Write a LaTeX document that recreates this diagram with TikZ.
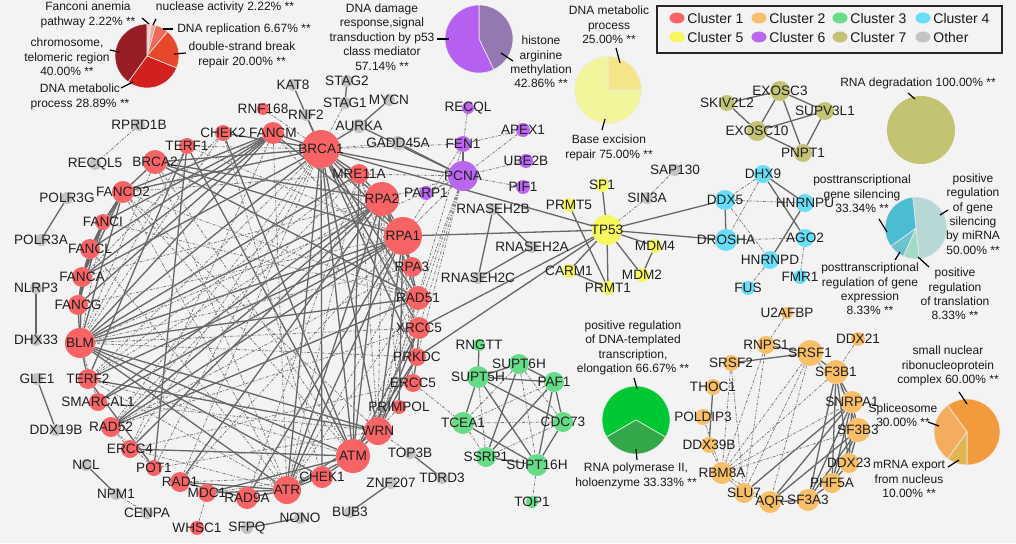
\documentclass[tikz,border=0pt]{standalone}
\usepackage{fontspec}
\setmainfont{Liberation Sans}
\usetikzlibrary{backgrounds,positioning,shapes.geometric}

\definecolor{bgcol}{HTML}{F3F3F3}
\definecolor{cA}{HTML}{F86465}
\definecolor{cB}{HTML}{F9BF68}
\definecolor{cC}{HTML}{67DC88}
\definecolor{cD}{HTML}{67DDF7}
\definecolor{cE}{HTML}{F6F65E}
\definecolor{cF}{HTML}{BA66F1}
\definecolor{cG}{HTML}{C4C374}
\definecolor{cO}{HTML}{C3C3C3}
\definecolor{edgecol}{HTML}{666666}
\definecolor{dashcol}{HTML}{7E7E7E}
% pie colours
\definecolor{rp1}{HTML}{F6CBC6}
\definecolor{rp2}{HTML}{F2A199}
\definecolor{rp3}{HTML}{EC6A5A}
\definecolor{rp4}{HTML}{E8482A}
\definecolor{rp5}{HTML}{D2201F}
\definecolor{rp6}{HTML}{961E24}
\definecolor{pp1}{HTML}{9478B2}
\definecolor{pp2}{HTML}{B660F2}
\definecolor{yp1}{HTML}{F4E48A}
\definecolor{yp2}{HTML}{F2F59C}
\definecolor{cp1}{HTML}{B8D8D6}
\definecolor{cp2}{HTML}{A2DCC6}
\definecolor{cp3}{HTML}{6CC2CF}
\definecolor{cp4}{HTML}{4BBDD2}
\definecolor{gp1}{HTML}{00C832}
\definecolor{gp2}{HTML}{33A84A}
\definecolor{op1}{HTML}{F29B3C}
\definecolor{op2}{HTML}{E1B652}
\definecolor{op3}{HTML}{F4AD5E}

\newcommand\genefont{\fontsize{13.6pt}{15pt}\selectfont}
\newcommand\pielabfont{\fontsize{12pt}{14.4pt}\selectfont}
\newcommand\legfont{\fontsize{14pt}{16pt}\selectfont}
% pie slice: centre, start angle, end angle, radius, colour
\newcommand\pieslice[5]{\filldraw[fill=#5, draw=white!85!gray, line width=0.6pt] (#1) -- ++({-(#2)}:#4) arc[start angle={-(#2)}, end angle={-(#3)}, radius=#4] -- cycle;}

\begin{document}
\begin{tikzpicture}[x=1pt, y=-1pt,
    gene/.style={circle, inner sep=0pt, draw=none, fill=#1},
    glab/.style={font=\genefont, text=black!88, inner sep=0pt},
    sedge/.style={draw=edgecol, line width=1.3pt},
    dedge/.style={draw=dashcol, line width=0.8pt, dash pattern=on 3pt off 1.5pt on 1pt off 1.5pt},
    pielab/.style={font=\pielabfont, align=center, inner sep=0pt, text=black!90},
    leader/.style={draw=black, line width=1.2pt},
    legmark/.style={ellipse, minimum width=15pt, minimum height=11pt, inner sep=0pt},
    legtext/.style={font=\legfont, inner sep=0pt, text=black!90}]
  \useasboundingbox (0,0) rectangle (1016,543);

  % genes
  \foreach \nm/\px/\py/\sz in {CHEK2/223/133/16, FANCM/273/133/22, BRCA1/321/149/38, MRE11A/359/174/20, RPA2/382/199/34, RPA1/403/236/38, RPA3/412/267/20, RAD51/418/298/24, XRCC5/419/328/22, PRKDC/417/357/18, ERCC5/413/383/18, PRIMPOL/399/407/14, WRN/378/431/28, ATM/353/456/34, CHEK1/322/477/22, ATR/287/490/28, RAD9A/247/498/22, MDC1/207/493/18, WHSC1/197/528/14, RAD1/180/482/20, POT1/154/468/16, ERCC4/130/449/18, RAD52/111/427/20, SMARCAL1/98/402/18, TERF2/88/379/20, BLM/80/343/30, FANCG/78/305/20, FANCA/82/277/20, FANCL/90/249/20, FANCI/103/222/16, FANCD2/123/192/22, BRCA2/155/162/24, TERF1/187/146/16, RNF168/263/109/12}
    \node[gene=cA, minimum size=\sz pt, label={[glab]center:\nm}] (\nm) at (\px,\py) {};
  \foreach \nm/\px/\py/\sz in {U2AFBP/787/313/12, RNPS1/766/345/18, SRSF1/810/353/26, DDX21/858/339/14, SRSF2/731/363/16, THOC1/713/387/16, POLDIP3/703/417/16, DDX39B/709/445/16, RBM8A/722/473/22, SLU7/744/493/20, AQR/770/502/22, SF3A3/808/500/22, PHF5A/832/483/20, DDX23/849/463/20, SF3B3/858/430/24, SNRPA1/852/402/22, SF3B1/836/372/24}
    \node[gene=cB, minimum size=\sz pt, label={[glab]center:\nm}] (\nm) at (\px,\py) {};
  \foreach \nm/\px/\py/\sz in {RNGTT/479/345/12, SUPT5H/478/377/22, SUPT6H/519/364/20, PAF1/554/382/20, CDC73/563/422/20, TCEA1/463/423/22, SSRP1/486/457/20, SUPT16H/537/465/22, TOP1/532/502/12}
    \node[gene=cC, minimum size=\sz pt, label={[glab]center:\nm}] (\nm) at (\px,\py) {};
  \foreach \nm/\px/\py/\sz in {DHX9/763/174/18, DDX5/725/200/20, HNRNPU/805/203/18, DROSHA/726/240/22, AGO2/805/238/18, HNRNPD/770/260/18, FMR1/800/277/14, FUS/748/288/14}
    \node[gene=cD, minimum size=\sz pt, label={[glab]center:\nm}] (\nm) at (\px,\py) {};
  \foreach \nm/\px/\py/\sz in {SP1/602/185/14, PRMT5/569/205/14, TP53/607/230/30, MDM4/655/246/14, MDM2/642/275/14, CARM1/569/271/14, PRMT1/608/288/14}
    \node[gene=cE, minimum size=\sz pt, label={[glab]center:\nm}] (\nm) at (\px,\py) {};
  \foreach \nm/\px/\py/\sz in {RECQL/468/108/12, FEN1/463/144/16, APEX1/523/130/14, UBE2B/526/161/14, PCNA/463/176/30, PIF1/523/187/14, PARP1/426/193/14}
    \node[gene=cF, minimum size=\sz pt, label={[glab]center:\nm}] (\nm) at (\px,\py) {};
  \foreach \nm/\px/\py/\sz in {EXOSC3/780/91/20, SKIV2L2/727/103/16, SUPV3L1/825/111/18, EXOSC10/757/131/20, PNPT1/803/153/18}
    \node[gene=cG, minimum size=\sz pt, label={[glab]center:\nm}] (\nm) at (\px,\py) {};
  \foreach \nm/\px/\py/\sz in {KAT8/293/85/12, STAG2/347/81/12, STAG1/345/103/12, RNF2/306/115/12, MYCN/389/100/12, AURKA/359/126/14, GADD45A/398/143/14, RPRD1B/139/125/12, RECQL5/95/164/12, POLR3G/67/198/12, POLR3A/41/240/12, NLRP3/36/288/12, DHX33/36/340/12, GLE1/37/379/12, DDX19B/56/430/12, NCL/86/465/12, NPM1/116/494/12, CENPA/147/513/12, SFPQ/247/528/12, NONO/300/518/12, BUB3/350/512/12, ZNF207/391/483/12, TOP3B/410/453/12, TDRD3/442/478/12, RNASEH2B/493/209/12, RNASEH2A/532/247/12, RNASEH2C/478/278/12, SIN3A/647/198/12, SAP130/675/170/12}
    \node[gene=cO, minimum size=\sz pt, label={[glab]center:\nm}] (\nm) at (\px,\py) {};

  \begin{pgfonlayer}{background}
    \fill[bgcol] (0,0) rectangle (1016,543);
    % solid interactions
    \foreach \a/\b in {POLR3G/POLR3A, NLRP3/DHX33, GLE1/DDX19B, NCL/NPM1, SFPQ/NONO, BUB3/ZNF207, TOP3B/TDRD3, KAT8/BRCA1, RNF2/BRCA1, STAG2/STAG1, MYCN/AURKA, AURKA/BRCA1, AURKA/PCNA, GADD45A/PCNA, RNASEH2B/RNASEH2A, RNASEH2B/RNASEH2C, RNASEH2C/RNASEH2A, FEN1/PCNA, BRCA1/PCNA, BRCA1/TP53, RPA1/TP53, XRCC5/TP53, PRKDC/TP53, TP53/DDX5, TP53/DROSHA,
        TP53/SP1, TP53/CARM1, TP53/MDM2, TP53/MDM4, TP53/PRMT1, MDM2/MDM4, PRMT5/PRMT1, CARM1/PRMT1,
        DDX5/DROSHA, DHX9/HNRNPU, DHX9/AGO2, HNRNPU/HNRNPD,
        SKIV2L2/EXOSC3, SKIV2L2/EXOSC10, EXOSC3/EXOSC10, EXOSC3/SUPV3L1, EXOSC3/PNPT1, EXOSC10/SUPV3L1, EXOSC10/PNPT1, SUPV3L1/PNPT1,
        RNGTT/SUPT5H, SUPT5H/SUPT6H, SUPT5H/PAF1, SUPT6H/PAF1, SUPT5H/TCEA1, SUPT5H/SUPT16H, SUPT5H/CDC73, SUPT6H/SSRP1, PAF1/CDC73, PAF1/SSRP1, PAF1/SUPT16H, CDC73/SUPT16H, TCEA1/SUPT16H, SSRP1/SUPT16H,
        RNPS1/SRSF1, SRSF2/SRSF1, THOC1/DDX39B, SRSF1/SF3B1, SF3B1/SNRPA1, SF3B1/SF3B3, SF3B1/DDX23, SF3B1/PHF5A, SF3B1/SF3A3, SNRPA1/SF3B3, SNRPA1/DDX23, SNRPA1/PHF5A, SNRPA1/SF3A3, SNRPA1/AQR, SNRPA1/SLU7, SF3B3/DDX23, SF3B3/PHF5A, SF3B3/SF3A3, SF3B3/AQR, DDX23/PHF5A, PHF5A/SF3A3, SF3A3/AQR,
        FANCD2/FANCI, FANCI/FANCL, FANCL/FANCA, FANCA/FANCG, FANCG/BLM, FANCD2/FANCL, FANCI/FANCA, FANCL/FANCG, FANCA/BLM, FANCD2/FANCA, FANCI/FANCG,
        BRCA1/BRCA2, BRCA1/FANCD2, BRCA1/BLM, BRCA1/ATM, BRCA1/ATR, BRCA1/CHEK1, BRCA1/CHEK2, BRCA1/RAD51, BRCA1/RPA1, BRCA1/RPA2, BRCA1/MRE11A, BRCA1/FANCM, BRCA1/XRCC5, BRCA1/PRKDC, BRCA1/FANCA, BRCA1/WRN,
        FANCM/FANCA, FANCM/FANCG, FANCM/FANCL, FANCM/FANCI, FANCM/FANCD2, FANCM/BLM, FANCM/RPA1,
        BLM/RPA1, BLM/RPA2, BLM/WRN, BLM/ATM, BLM/ATR, BLM/RAD51, BLM/MRE11A, BLM/TERF2, BLM/FANCD2, BLM/CHEK1,
        ATM/MRE11A, ATM/CHEK2, ATM/ATR, ATM/CHEK1, ATM/WRN, ATM/RPA2, ATM/MDC1, ATM/XRCC5, ATM/TERF1, ATM/PRKDC, ATM/ERCC4,
        ATR/RPA1, ATR/RPA2, ATR/RAD9A, ATR/RAD1, ATR/CHEK1, ATR/WRN, ATR/MDC1, RAD9A/RAD1, RAD9A/RPA1,
        RPA1/RPA2, RPA1/RPA3, RPA2/RPA3, RPA1/RAD51, RPA1/RAD52, RPA1/WRN, RPA1/BRCA2, RPA1/TERF2, RPA1/SMARCAL1, RPA1/PRIMPOL,
        RPA2/RAD52, RPA2/MRE11A, RPA2/SMARCAL1, RPA2/ERCC4, RPA2/RAD51, RPA2/RAD1,
        RAD51/BRCA2, RAD51/RAD52, XRCC5/PRKDC, PRKDC/ERCC5, XRCC5/WRN, PRKDC/WRN,
        TERF1/TERF2, TERF1/POT1, TERF2/POT1, WRN/TERF2, BRCA2/FANCD2, BRCA2/RPA2}
      \draw[sedge] (\a) -- (\b);
    % dash-dotted interactions
    \foreach \a/\b in {RPRD1B/RECQL5, NPM1/CENPA, WHSC1/MDC1, TOP3B/WRN, SIN3A/SAP130, SIN3A/TP53, STAG1/BRCA1, GADD45A/BRCA1, RNF168/BRCA1,
        RECQL/FEN1, FEN1/APEX1, APEX1/PCNA, UBE2B/PCNA, PIF1/PCNA, PARP1/PCNA, FEN1/BRCA1, PCNA/MRE11A, PCNA/RPA2, PCNA/RPA1, PCNA/RAD51, PCNA/WRN, PCNA/XRCC5, PCNA/PRKDC, PCNA/BLM, FEN1/WRN, FEN1/RPA1,
        DHX9/DDX5, DHX9/DROSHA, DDX5/HNRNPU, DDX5/HNRNPD, DROSHA/AGO2, AGO2/FMR1, HNRNPD/FUS,
        SUPT5H/SSRP1, SUPT6H/CDC73, SUPT6H/TCEA1, PAF1/TCEA1, CDC73/TCEA1, CDC73/SSRP1, TCEA1/SSRP1, SUPT16H/TOP1, ERCC5/TCEA1, SUPT6H/SUPT16H,
        U2AFBP/RNPS1, DDX21/SF3B1, RNPS1/RBM8A, SRSF2/RBM8A, SRSF2/SLU7, SRSF1/RBM8A, SRSF1/SLU7, SRSF1/AQR, SRSF1/SNRPA1, POLDIP3/RBM8A, DDX39B/RBM8A, RBM8A/SF3B3, RBM8A/SNRPA1, RBM8A/SLU7, AQR/SLU7, RBM8A/AQR, RNPS1/SLU7, SF3B1/RBM8A,
        BRCA1/TERF1, BRCA1/RAD52, BRCA1/TERF2, BRCA1/POT1, BRCA1/RAD1, BRCA1/ERCC4, CHEK2/BLM, CHEK2/FANCA, TERF1/BLM, TERF1/RPA1, FANCM/RAD51, FANCM/ERCC4, FANCM/ATR,
        MRE11A/RAD52, MRE11A/ATR, MRE11A/XRCC5, MRE11A/PRKDC, MRE11A/WRN, MRE11A/RAD9A, MRE11A/TERF2, MRE11A/FANCD2,
        RPA2/WRN, RPA2/PRIMPOL, RPA3/ATR, RPA3/BLM, RPA3/RAD52, RPA3/WRN, RAD51/WRN, RAD51/ATM, RAD51/ATR, RAD51/FANCD2, XRCC5/BLM, XRCC5/RAD52, PRKDC/BLM,
        ERCC5/ERCC4, ERCC5/RPA1, PRIMPOL/WRN, WRN/FANCD2, WRN/POT1, ATM/TERF2, ATR/TERF2, ATR/ERCC4, CHEK1/RAD1, CHEK1/MDC1, RAD1/RPA1, POT1/RAD52, SMARCAL1/BLM, SMARCAL1/WRN, RAD52/ERCC4,
        FANCI/BLM, FANCI/RAD51, FANCA/RPA2, FANCG/RPA1, FANCL/ATR, FANCD2/ATM, FANCD2/ATR, BRCA2/BLM, BRCA2/ATR, BRCA2/ATM, TERF2/RPA2, CHEK2/CHEK1}
      \draw[dedge] (\a) -- (\b);
  \end{pgfonlayer}

  % enrichment pies
  \coordinate (redpie) at (147,56);
  \pieslice{redpie}{90}{82}{32}{rp1}
  \pieslice{redpie}{82}{74}{32}{rp2}
  \pieslice{redpie}{74}{50}{32}{rp3}
  \pieslice{redpie}{50}{-22}{32}{rp4}
  \pieslice{redpie}{-22}{-126}{32}{rp5}
  \pieslice{redpie}{-126}{-270}{32}{rp6}
  \draw[leader] (redpie) ++(2,-32) -- ++(-7,-6);
  \draw[leader] (redpie) ++(6,-31) -- ++(3,-6);
  \draw[leader] (redpie) ++(16,-27) -- ++(10,0);
  \draw[leader] (redpie) ++(27,-2) -- ++(12,-1);
  \draw[leader] (redpie) ++(-37,-6) -- ++(9,2);
  \draw[leader] (redpie) ++(-26,32) -- ++(12,-6);
  \node[pielab] (fanc) at (88,15) {Fanconi anemia\\pathway 2.22\% **};
  \node[pielab] (nucl) at (225,7) {nuclease activity 2.22\% **};
  \node[pielab] (drep) at (244,29) {DNA replication 6.67\% **};
  \node[pielab] (dsbr) at (242,55) {double-strand break\\repair 20.00\% **};
  \node[pielab] (chro) at (67,57) {chromosome,\\telomeric region\\40.00\% **};
  \node[pielab] (dmet) at (80,97) {DNA metabolic\\process 28.89\% **};

  \coordinate (purpie) at (479,39);
  \pieslice{purpie}{90}{-64.3}{34}{pp1}
  \pieslice{purpie}{-64.3}{-270}{34}{pp2}
  \draw[leader] (purpie) ++(-42,0) -- ++(12,0);
  \draw[leader] (purpie) ++(22,14) -- ++(12,8);
  \node[pielab] (ddr) at (382,37) {DNA damage\\response,signal\\transduction by p53\\class mediator\\57.14\% **};
  \node[pielab] (harg) at (541,62) {histone\\arginine\\methylation\\42.86\% **};

  \coordinate (yelpie) at (608,90);
  \pieslice{yelpie}{90}{0}{33.5}{yp1}
  \pieslice{yelpie}{0}{-270}{33.5}{yp2}
  \draw[leader] (yelpie) ++(8,-42) -- ++(4,15);
  \draw[leader] (yelpie) ++(-3,29) -- ++(-3,11);
  \node[pielab] (ymet) at (609,25) {DNA metabolic\\process\\25.00\% **};
  \node[pielab] (bexr) at (609,148) {Base excision\\repair 75.00\% **};

  \coordinate (olvpie) at (921,130);
  \fill[cG] (olvpie) circle[radius=34];
  \draw[leader] (olvpie) ++(-13,-37) -- ++(7,6);
  \node[pielab] (rdeg) at (918,83) {RNA degradation 100.00\% **};

  \coordinate (cynpie) at (916,228);
  \pieslice{cynpie}{96}{-84}{31}{cp1}
  \pieslice{cynpie}{-84}{-114}{31}{cp2}
  \pieslice{cynpie}{-114}{-144}{31}{cp3}
  \pieslice{cynpie}{-144}{-264}{31}{cp4}
  \draw[leader] (cynpie) ++(-37,-9) -- ++(8,13);
  \draw[leader] (cynpie) ++(24,-13) -- ++(8,-5);
  \draw[leader] (cynpie) ++(-21,32) -- ++(5,-8);
  \draw[leader] (cynpie) ++(2,29) -- ++(11,10);
  \node[pielab] (ptgs) at (862,194) {posttranscriptional\\gene silencing\\33.34\% **};
  \node[pielab] (mirn) at (973,214) {positive\\regulation\\of gene\\silencing\\by miRNA\\50.00\% **};
  \node[pielab] (ptrg) at (870,289) {posttranscriptional\\regulation of gene\\expression\\8.33\% **};
  \node[pielab] (ptrn) at (955,294) {positive\\regulation\\of translation\\8.33\% **};

  \coordinate (grnpie) at (636,420);
  \pieslice{grnpie}{-30}{210}{34}{gp1}
  \pieslice{grnpie}{210}{330}{34}{gp2}
  \draw[leader] (grnpie) ++(-2,-42) -- ++(3,11);
  \draw[leader] (grnpie) ++(0,29) -- ++(1,11);
  \node[pielab] (elon) at (633,348) {positive regulation\\of DNA-templated\\transcription,\\elongation 66.67\% **};
  \node[pielab] (rpol) at (636,476) {RNA polymerase II,\\holoenzyme 33.33\% **};

  \coordinate (orgpie) at (967,432);
  \pieslice{orgpie}{126}{-90}{33}{op1}
  \pieslice{orgpie}{-90}{-126}{33}{op2}
  \pieslice{orgpie}{-126}{-234}{33}{op3}
  \draw[leader] (orgpie) ++(-8,-40) -- ++(8,12);
  \draw[leader] (orgpie) ++(-39,-10) -- ++(11,4);
  \draw[leader] (orgpie) ++(-19,35) -- ++(11,-7);
  \node[pielab] (snrp) at (948,366) {small nuclear\\ribonucleoprotein\\complex 60.00\% **};
  \node[pielab] (splc) at (903,415) {Spliceosome\\30.00\% **};
  \node[pielab] (mrna) at (909,479) {mRNA export\\from nucleus\\10.00\% **};

  % legend
  \draw[line width=1.4pt, draw=black!85] (657,6) rectangle (1002,53);
  \foreach \nm/\col/\px/\py/\txt in {l1/cA/677/18/Cluster 1, l2/cB/759/18/Cluster 2, l3/cC/840/18/Cluster 3, l4/cD/923/18/Cluster 4, l5/cE/677/37/Cluster 5, l6/cF/759/37/Cluster 6, l7/cG/840/37/Cluster 7, l8/cO/923/37/Other}
  {
    \node[legmark, fill=\col] (\nm) at (\px,\py) {};
    \node[legtext, right=2.5pt of \nm] (t\nm) {\txt};
  }
\end{tikzpicture}
\end{document}
